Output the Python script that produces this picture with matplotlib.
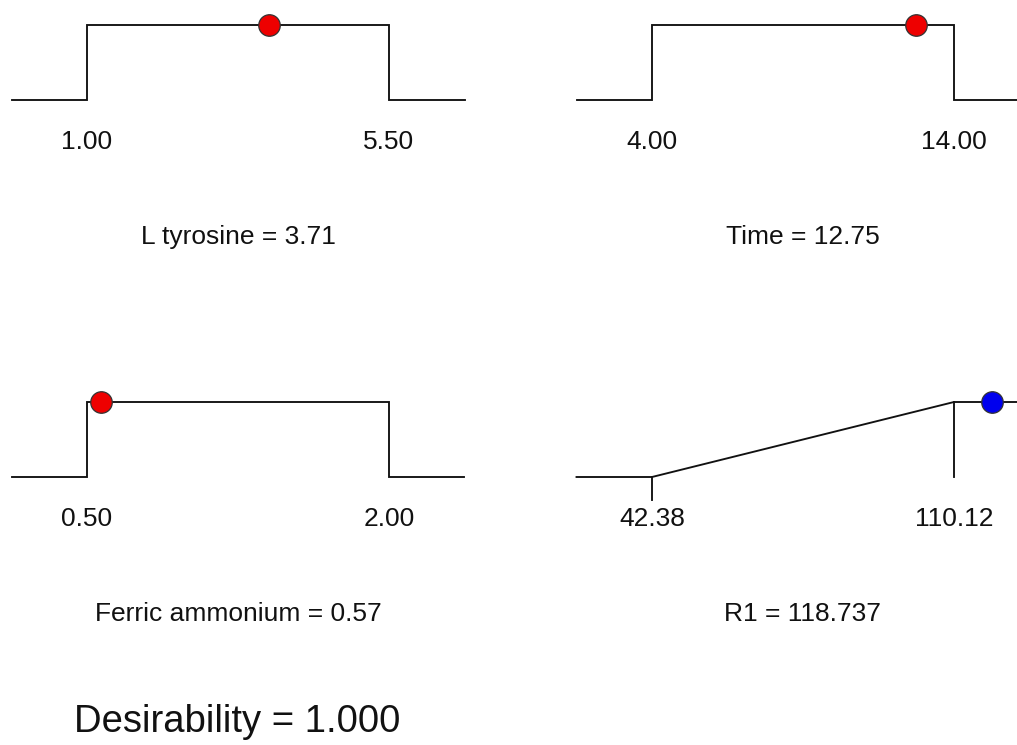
import matplotlib
matplotlib.use("Agg")
import matplotlib.pyplot as plt

plt.rcParams['font.family'] = ['Liberation Sans', 'DejaVu Sans']

# Data
names = ["L tyrosine", "Time", "Ferric ammonium", "R1"]
lows = [1.00, 4.00, 0.50, 42.38]
highs = [5.50, 14.00, 2.00, 110.12]
values = [3.71, 12.75, 0.57, 118.737]
low_labels = ["1.00", "4.00", "0.50", "42.38"]
high_labels = ["5.50", "14.00", "2.00", "110.12"]
value_labels = ["3.71", "12.75", "0.57", "118.737"]
is_response = [False, False, False, True]
point_colors = ["#ee0000", "#ee0000", "#ee0000", "#0000ee"]
desirability = "1.000"

W, H = 1017, 745
fig = plt.figure(figsize=(W / 100, H / 100), dpi=100)

# panel pixel anchors: (left px of axes, baseline px)
anchors = [(11.5, 100), (576.5, 100), (11.5, 477), (576.5, 477)]
panel_w = 453
panel_h = 75

for i in range(4):
    lx, by = anchors[i]
    ax = fig.add_axes([lx / W, 1 - by / H, panel_w / W, panel_h / H])
    ax.set_axis_off()
    lo, hi = lows[i], highs[i]
    r = hi - lo
    x0, x1 = lo - 0.25 * r, hi + 0.25 * r
    ax.set_xlim(x0, x1)
    ax.set_ylim(0, 1)
    lc = "#111111"
    lw = 1.35
    if not is_response[i]:
        ax.plot([x0, lo, lo, hi, hi, x1], [0, 0, 1, 1, 0, 0], color=lc, lw=lw,
                clip_on=False, solid_joinstyle='miter')
    else:
        ax.plot([x0, lo, hi, x1 + r], [0, 0, 1, 1], color=lc, lw=lw, clip_on=False)
        ax.plot([hi, hi], [0, 1], color=lc, lw=lw, clip_on=False)
        ax.plot([lo, lo], [0, -0.31], color=lc, lw=lw, clip_on=False)
    ax.plot([values[i]], [1], marker='o', ms=15.5, mfc=point_colors[i],
            mec="#333333", mew=0.9, clip_on=False, zorder=5)
    ty = -0.56
    fs = 19
    ax.text(lo, ty, low_labels[i], ha='center', va='center', fontsize=fs,
            color='#111111', clip_on=False)
    ax.text(hi, ty, high_labels[i], ha='center', va='center', fontsize=fs,
            color='#111111', clip_on=False)
    cx = (x0 + x1) / 2
    ax.text(cx, -1.83, f"{names[i]} = {value_labels[i]}", ha='center', va='center',
            fontsize=fs, color='#111111', clip_on=False)

fig.text(237 / W, 1 - 722 / H, f"Desirability = {desirability}", ha='center',
         va='center', fontsize=27.5, color='#111111')

fig.savefig("out.png", dpi=100, facecolor='white')
